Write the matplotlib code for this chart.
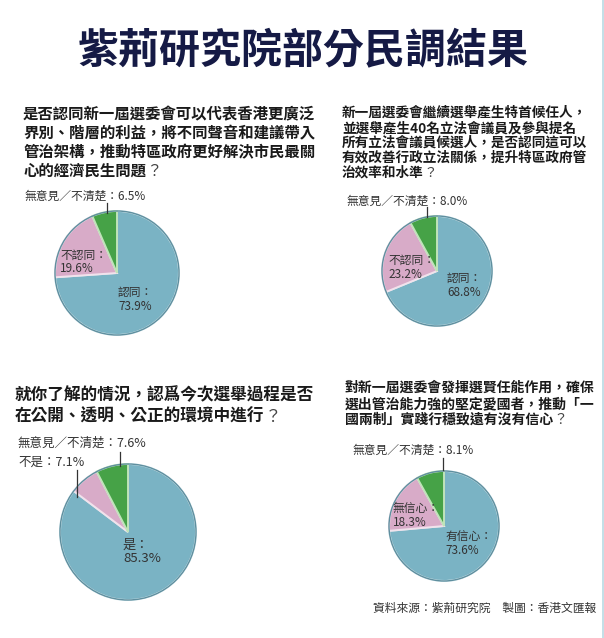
import matplotlib.pyplot as plt
from matplotlib.patches import Circle

plt.rcParams['font.family'] = ['Noto Sans CJK TC', 'DejaVu Sans']

W, H = 604, 638

title = "紫荊研究院部分民調結果"
source = "資料來源：紫荊研究院　製圖：香港文匯報"

q1_lines = ["是否認同新一屆選委會可以代表香港更廣泛",
            "界別、階層的利益，將不同聲音和建議帶入",
            "管治架構，推動特區政府更好解決市民最關",
            "心的經濟民生問題？"]
q1_labels = ["認同", "不認同", "無意見／不清楚"]
q1_values = [73.9, 19.6, 6.5]

q2_lines = ["新一屆選委會繼續選舉產生特首候任人，",
            "並選舉產生40名立法會議員及參與提名",
            "所有立法會議員候選人，是否認同這可以",
            "有效改善行政立法關係，提升特區政府管",
            "治效率和水準？"]
q2_labels = ["認同", "不認同", "無意見／不清楚"]
q2_values = [68.8, 23.2, 8.0]

q3_lines = ["就你了解的情況，認爲今次選舉過程是否",
            "在公開、透明、公正的環境中進行？"]
q3_labels = ["是", "不是", "無意見／不清楚"]
q3_values = [85.3, 7.1, 7.6]

q4_lines = ["對新一屆選委會發揮選賢任能作用，確保",
            "選出管治能力強的堅定愛國者，推動「一",
            "國兩制」實踐行穩致遠有沒有信心？"]
q4_labels = ["有信心", "無信心", "無意見／不清楚"]
q4_values = [73.6, 18.3, 8.1]

colors = ["#7ab3c4", "#d8abc8", "#46a247"]
edge_light = ["#d6e9ee", "#f1e2ec", "#bfe3b9"]
txt = "#333333"

fig = plt.figure(figsize=(W / 100, H / 100), dpi=100)
ax = fig.add_axes([0, 0, 1, 1])
ax.set_xlim(0, W)
ax.set_ylim(0, H)
renderer = fig.canvas.get_renderer()


def Y(y):
    return H - y


def draw_pie(values, cx, cy, r):
    wedges, _ = ax.pie(values, colors=colors, startangle=90, counterclock=False,
                       center=(cx, Y(cy)), radius=r, frame=True,
                       wedgeprops=dict(linewidth=1.4))
    for w, ec in zip(wedges, edge_light):
        w.set_edgecolor(ec)
    ax.add_patch(Circle((cx, Y(cy)), r, fill=False, ec="#5f8f9f", lw=1.0))


def draw_question(lines, x, y0, step, size):
    for i, line in enumerate(lines):
        body, mark = (line[:-1], "？") if line.endswith("？") else (line, "")
        t = ax.text(x, Y(y0 + i * step), body, fontsize=size, fontweight="bold",
                    color="#1a1a1a", va="center", ha="left")
        if mark:
            bb = t.get_window_extent(renderer)
            ax.text(bb.x1, Y(y0 + i * step), mark, fontsize=size,
                    color="#444444", va="center", ha="left")


def cat_label(label, value, x, y, two_lines=True, size=8.5):
    if two_lines:
        ax.text(x, Y(y), f"{label}：", fontsize=size, color=txt, va="center")
        ax.text(x, Y(y + 14), f"{value}%", fontsize=size, color=txt, va="center")
    else:
        ax.text(x, Y(y), f"{label}：{value}%", fontsize=size, color=txt, va="center")


def leader(x, y1, y2):
    ax.plot([x, x], [Y(y1), Y(y2)], color="#333333", lw=0.9)


# title
ax.text(W / 2 + 1, Y(50), title, fontsize=29.5, fontweight="bold", color="#151a45",
        ha="center", va="center")

# Q1
draw_question(q1_lines, 23, 114, 19, 11.1)
draw_pie(q1_values, 117, 273, 62)
cat_label(q1_labels[2], q1_values[2], 25, 196, two_lines=False)
leader(107, 203, 213)
cat_label(q1_labels[1], q1_values[1], 60, 255)
cat_label(q1_labels[0], q1_values[0], 118, 292)

# Q2
draw_question(q2_lines, 342, 113, 15, 9.8)
draw_pie(q2_values, 437, 271, 55)
cat_label(q2_labels[2], q2_values[2], 347, 201, two_lines=False)
leader(427, 207, 217)
cat_label(q2_labels[1], q2_values[1], 388, 260)
cat_label(q2_labels[0], q2_values[0], 447, 278)

# Q3
draw_question(q3_lines, 15, 395, 22, 12)
draw_pie(q3_values, 128, 532, 68)
cat_label(q3_labels[2], q3_values[2], 18, 443, two_lines=False, size=9)
cat_label(q3_labels[1], q3_values[1], 18, 462, two_lines=False, size=9)
leader(120, 452, 466)
leader(77, 470, 497)
cat_label(q3_labels[0], q3_values[0], 123, 545, size=9.5)

# Q4
draw_question(q4_lines, 345, 388, 16, 10)
draw_pie(q4_values, 444, 526, 55)
cat_label(q4_labels[2], q4_values[2], 353, 450, two_lines=False)
leader(443, 458, 470)
cat_label(q4_labels[1], q4_values[1], 393, 508)
cat_label(q4_labels[0], q4_values[0], 445, 537)

# source
ax.text(596, Y(608), source, fontsize=8.5, color=txt, ha="right", va="center")

# thin border at right edge
ax.plot([602.5, 602.5], [0, H], color="#b9d9e3", lw=1.2)

ax.set_xlim(0, W)
ax.set_ylim(0, H)
ax.set_aspect("auto")
ax.axis("off")

fig.savefig("out.png", dpi=100)
